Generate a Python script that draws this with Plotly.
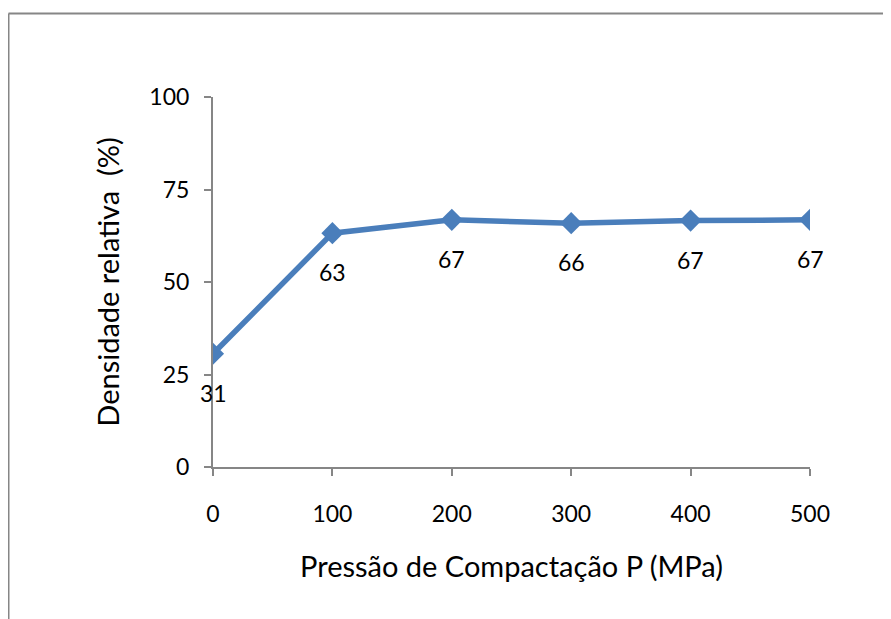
import plotly.graph_objects as go

pressure = [0, 100, 200, 300, 400, 500]
density = [30.6, 63.2, 66.8, 65.9, 66.6, 66.8]
x_ticks = [0, 100, 200, 300, 400, 500]
y_ticks = [0, 25, 50, 75, 100]

# the page body adds an 8px offset; work in figure coordinates
OFF = 8
W, H = 891 - OFF, 619 - OFF
ML, MT = 213 - OFF, 97 - OFF
MR = W - (810 - OFF)
MB = H - (467 - OFF)
pw, ph = W - ML - MR, H - MT - MB

def px_to_paper_x(px):
    return (px - OFF - ML) / pw

def py_to_paper_y(py):
    return (H - MB - (py - OFF)) / ph

line_color = "#4A7EBB"
axis_color = "#868686"
font_family = "Lato, Carlito, Calibri, 'Open Sans', sans-serif"

fig = go.Figure()
fig.add_trace(go.Scatter(
    x=pressure, y=density, mode="lines+markers",
    line=dict(color=line_color, width=5.5),
    marker=dict(symbol="diamond", size=17, color=line_color),
    showlegend=False, hoverinfo="x+y",
))

for xv, yv in zip(pressure, density):
    fig.add_annotation(x=xv, y=yv, text=f"{yv:.0f}", showarrow=False,
                       yshift=-39, font=dict(size=23, color="#000000", family=font_family))

fig.update_layout(
    width=W, height=H,
    margin=dict(l=ML, r=MR, t=MT, b=MB),
    paper_bgcolor="white", plot_bgcolor="white",
    font=dict(family=font_family, color="#000000"),
    xaxis=dict(
        range=[0, 500], tickvals=x_ticks, ticktext=[str(v) for v in x_ticks],
        showgrid=False, zeroline=False, showline=True, linecolor=axis_color, linewidth=2,
        ticks="outside", ticklen=7, tickcolor=axis_color, tickwidth=2,
        tickfont=dict(size=23, family=font_family), ticklabelstandoff=18,
        title=dict(text="Pressão de Compactação P (MPa)", font=dict(size=29, family=font_family), standoff=31),
        fixedrange=True,
    ),
    yaxis=dict(
        range=[0, 100], tickvals=y_ticks, ticktext=[str(v) for v in y_ticks],
        showgrid=False, zeroline=False, showline=True, linecolor=axis_color, linewidth=2,
        ticks="outside", ticklen=7, tickcolor=axis_color, tickwidth=2,
        tickfont=dict(size=23, family=font_family), ticklabelstandoff=10,
        title=dict(text="Densidade relativa&nbsp; (%)", font=dict(size=29, family=font_family), standoff=21),
        fixedrange=True,
    ),
)

# outer chart border (top and left visible)
fig.add_shape(type="line", xref="paper", yref="paper",
              x0=px_to_paper_x(8.5), x1=px_to_paper_x(891 + 5),
              y0=py_to_paper_y(13.5), y1=py_to_paper_y(13.5),
              line=dict(color=axis_color, width=2))
fig.add_shape(type="line", xref="paper", yref="paper",
              x0=px_to_paper_x(8.5), x1=px_to_paper_x(8.5),
              y0=py_to_paper_y(13.5), y1=py_to_paper_y(619 + 5),
              line=dict(color=axis_color, width=2))

fig.write_html("out.html")
